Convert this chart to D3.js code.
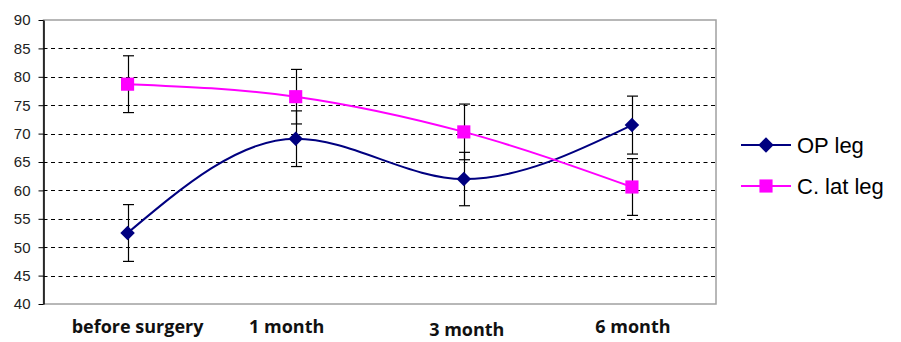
<!DOCTYPE html>
<html>
<head>
<meta charset="utf-8">
<script src="https://cdn.jsdelivr.net/npm/d3@7"></script>
<style>
  html, body { margin: 0; padding: 0; background: #fff; }
  svg { display: block; }
</style>
</head>
<body>
<div id="chart"></div>
<script>
// data
const categories = ['before surgery', '1 month', '3 month', '6 month'];
const opLeg = [52.5, 69.1, 62.0, 71.5];
const opErr = [5.0, 4.9, 4.7, 5.1];
const latLeg = [78.7, 76.5, 70.3, 60.6];
const latErr = [5.0, 4.8, 4.9, 5.0];
const yTicks = [40, 45, 50, 55, 60, 65, 70, 75, 80, 85, 90];

// excel-ish label nudges (x, y) for the category text
const labelNudge = [[10, 0], [-9, 0], [3, 3], [1, 0]];

const W = 901, H = 342;
const m = { top: 20, right: 185, bottom: 38, left: 43.5 };

const svg = d3.select('#chart').append('svg')
  .attr('width', W).attr('height', H);

const x = d3.scalePoint().domain(categories)
  .range([m.left, W - m.right]).padding(0.5);
const y = d3.scaleLinear().domain([40, 90]).range([H - m.bottom, m.top]);

const x0 = m.left, x1 = W - m.right;

// plot frame (gray top / right / bottom)
svg.append('rect')
  .attr('x', x0).attr('y', y(90))
  .attr('width', x1 - x0).attr('height', y(40) - y(90))
  .attr('fill', 'none').attr('stroke', '#a0a0a0').attr('stroke-width', 1.5);

// dashed gridlines
svg.append('g').selectAll('line')
  .data(yTicks.filter(t => t > 40 && t < 90))
  .join('line')
  .attr('x1', x0).attr('x2', x1)
  .attr('y1', d => Math.round(y(d)) + 0.5).attr('y2', d => Math.round(y(d)) + 0.5)
  .attr('stroke', '#000').attr('stroke-width', 1)
  .attr('stroke-dasharray', '4 3.5');

// y axis
const yAxis = svg.append('g')
  .attr('transform', `translate(${x0},0)`)
  .call(d3.axisLeft(y).tickValues(yTicks).tickSize(5).tickSizeOuter(0).tickPadding(8));
yAxis.select('.domain').attr('stroke', '#000').attr('stroke-width', 1.5);
yAxis.selectAll('.tick line').attr('stroke', '#000');
yAxis.selectAll('.tick text')
  .attr('font-family', '"Liberation Sans", Arial, sans-serif')
  .attr('font-size', 15).attr('fill', '#222');

// category labels
svg.append('g').selectAll('text')
  .data(categories)
  .join('text')
  .attr('x', (d, i) => x(d) + labelNudge[i][0])
  .attr('y', (d, i) => 333 + labelNudge[i][1])
  .attr('text-anchor', 'middle')
  .attr('font-family', '"Open Sans", Lato, sans-serif')
  .attr('font-weight', 'bold').attr('font-size', 18).attr('fill', '#111')
  .text(d => d);

const series = [
  { name: 'OP leg', vals: opLeg, err: opErr, color: '#000080', shape: d3.symbolDiamond2, size: 135, legSize: 150 },
  { name: 'C. lat leg', vals: latLeg, err: latErr, color: '#ff00ff', shape: d3.symbolSquare2, size: 220, legSize: 220 }
];

const line = d3.line()
  .x((d, i) => x(categories[i]))
  .y(d => y(d))
  .curve(d3.curveMonotoneX);

// lines
series.forEach(s => {
  svg.append('path')
    .datum(s.vals)
    .attr('d', line)
    .attr('fill', 'none').attr('stroke', s.color).attr('stroke-width', 2);
});

// error bars
series.forEach(s => {
  const g = svg.append('g').attr('stroke', '#000').attr('stroke-width', 1.2);
  s.vals.forEach((v, i) => {
    const cx = Math.round(x(categories[i])) + 0.5;
    const hi = y(v + s.err[i]), lo = y(v - s.err[i]);
    g.append('line').attr('x1', cx).attr('x2', cx).attr('y1', hi).attr('y2', lo);
    g.append('line').attr('x1', cx - 5.5).attr('x2', cx + 5.5).attr('y1', hi).attr('y2', hi);
    g.append('line').attr('x1', cx - 5.5).attr('x2', cx + 5.5).attr('y1', lo).attr('y2', lo);
  });
});

// markers
series.forEach(s => {
  svg.append('g').selectAll('path')
    .data(s.vals)
    .join('path')
    .attr('transform', (d, i) => `translate(${x(categories[i])},${y(d)})`)
    .attr('d', d3.symbol(s.shape, s.size))
    .attr('fill', s.color);
});

// legend
const leg = svg.append('g');
series.forEach((s, i) => {
  const ly = 145 + i * 41;
  leg.append('line')
    .attr('x1', 741).attr('x2', 791).attr('y1', ly).attr('y2', ly)
    .attr('stroke', s.color).attr('stroke-width', 2);
  leg.append('path')
    .attr('transform', `translate(766,${ly})`)
    .attr('d', d3.symbol(s.shape, s.legSize))
    .attr('fill', s.color);
  leg.append('text')
    .attr('x', 797).attr('y', ly + 8)
    .attr('font-family', '"Liberation Sans", Arial, sans-serif')
    .attr('font-size', 22).attr('fill', '#000')
    .text(s.name);
});
</script>
</body>
</html>
